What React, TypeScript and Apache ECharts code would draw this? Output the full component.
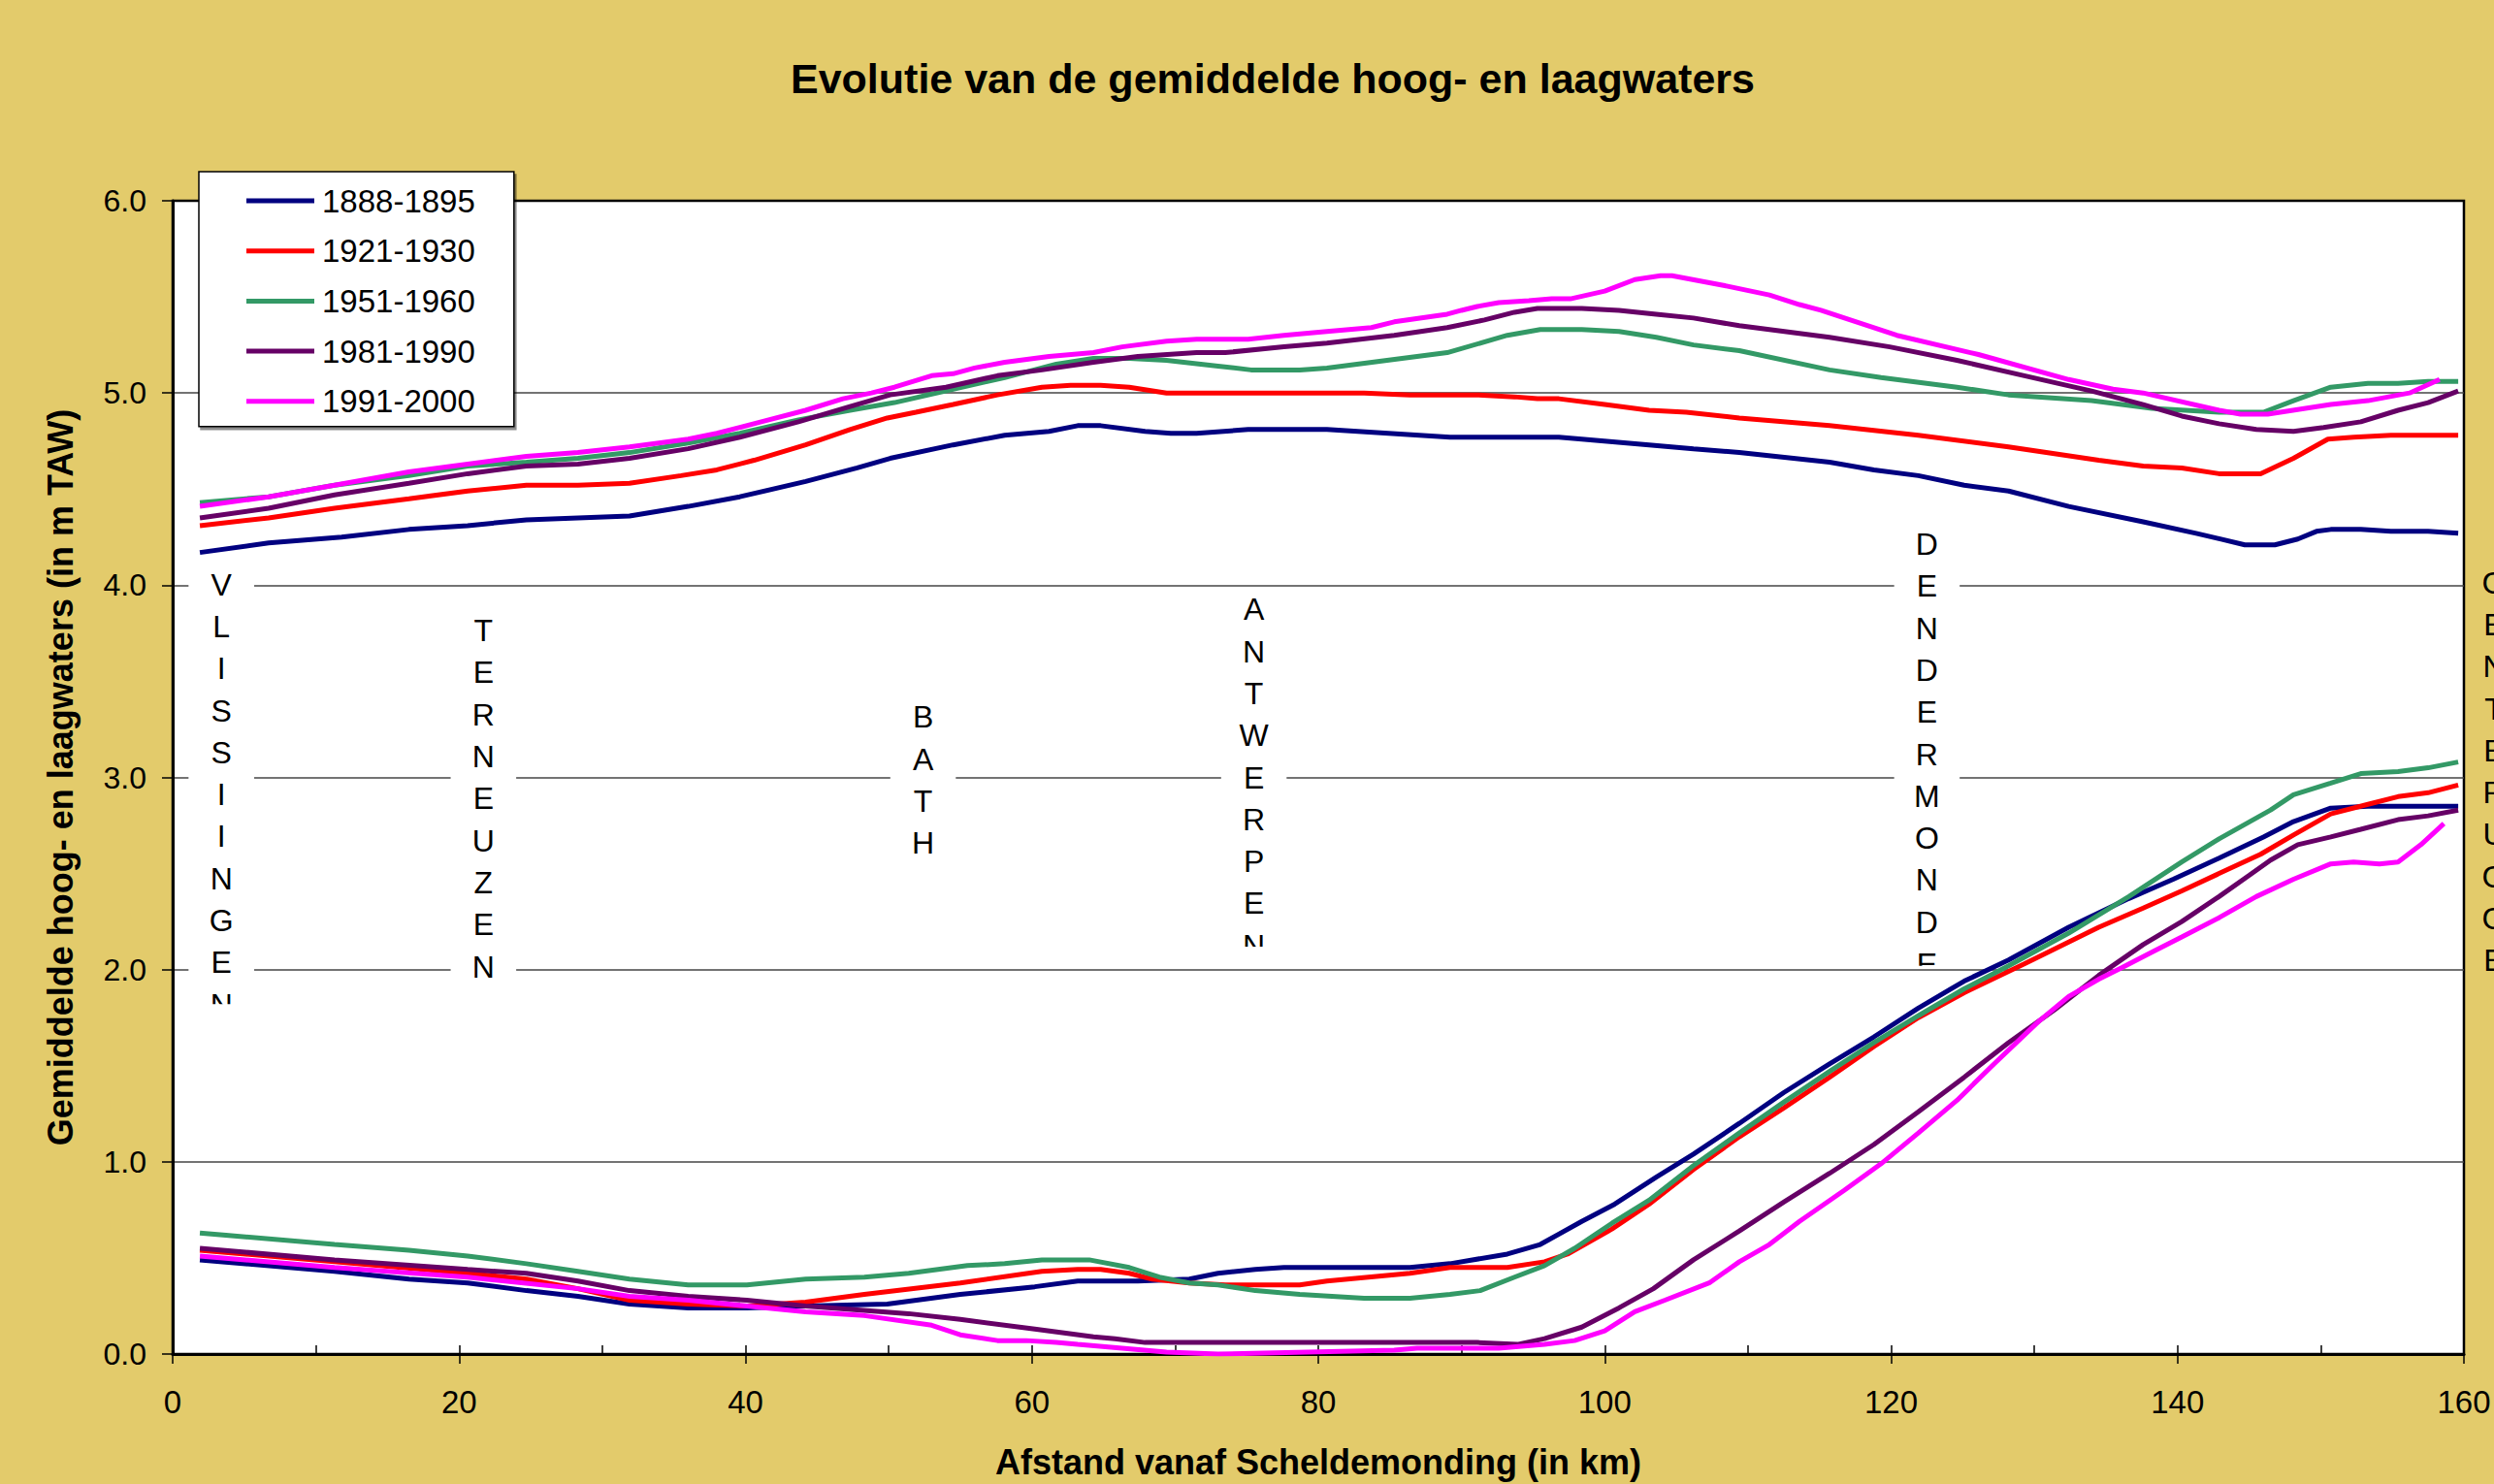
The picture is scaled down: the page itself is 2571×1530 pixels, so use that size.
import React, { useEffect, useRef } from "react";
import * as echarts from "echarts";

const FONT = "'Liberation Sans', Arial, sans-serif";

const TITLE = "Evolutie van de gemiddelde hoog- en laagwaters";
const X_NAME = "Afstand vanaf Scheldemonding (in km)";
const Y_NAME = "Gemiddelde hoog- en laagwaters (in m TAW)";

const periods = ["1888-1895", "1921-1930", "1951-1960", "1981-1990", "1991-2000"];
const colors = ["#000080", "#FF0000", "#339966", "#660066", "#FF00FF"];

// High water (hoogwater) [km, m TAW]
const hw1888 = [[1.9,4.17],[6.7,4.22],[11.8,4.25],[16.5,4.29],[20.6,4.31],[24.7,4.34],[31.9,4.36],[36.0,4.41],[39.6,4.46],[44.2,4.54],[47.8,4.61],[50.1,4.66],[54.5,4.73],[58.1,4.78],[61.2,4.80],[63.2,4.83],[64.8,4.83],[67.9,4.80],[69.7,4.79],[71.5,4.79],[75.1,4.81],[80.6,4.81],[89.2,4.77],[96.8,4.77],[98.4,4.76],[103.1,4.73],[106.2,4.71],[109.4,4.69],[115.7,4.64],[118.8,4.60],[121.9,4.57],[125.1,4.52],[128.2,4.49],[132.4,4.41],[137.6,4.33],[141.3,4.27],[144.7,4.21],[146.8,4.21],[148.4,4.24],[149.7,4.28],[150.7,4.29],[152.8,4.29],[154.9,4.28],[157.5,4.28],[159.6,4.27]];
const hw1921 = [[1.9,4.31],[6.7,4.35],[11.3,4.40],[16.5,4.45],[20.6,4.49],[24.7,4.52],[28.3,4.52],[31.9,4.53],[35.5,4.57],[38.0,4.60],[40.6,4.65],[44.2,4.73],[47.3,4.81],[49.9,4.87],[51.9,4.90],[54.5,4.94],[57.6,4.99],[60.7,5.03],[62.7,5.04],[64.8,5.04],[66.8,5.03],[69.4,5.00],[83.2,5.00],[86.4,4.99],[91.1,4.99],[93.7,4.98],[95.3,4.97],[96.8,4.97],[100.0,4.94],[103.1,4.91],[105.7,4.90],[109.4,4.87],[115.7,4.83],[121.9,4.78],[128.2,4.72],[134.5,4.65],[137.6,4.62],[140.3,4.61],[142.9,4.58],[145.8,4.58],[148.1,4.66],[150.5,4.76],[152.3,4.77],[154.9,4.78],[159.6,4.78]];
const hw1951 = [[1.9,4.43],[6.7,4.46],[11.3,4.52],[16.5,4.57],[20.6,4.62],[24.7,4.64],[28.3,4.66],[31.9,4.69],[36.0,4.74],[39.6,4.79],[43.7,4.86],[47.3,4.91],[50.4,4.95],[54.5,5.02],[58.1,5.08],[61.7,5.15],[64.3,5.18],[66.8,5.18],[69.4,5.17],[73.0,5.14],[75.3,5.12],[78.7,5.12],[80.6,5.13],[89.0,5.21],[93.2,5.30],[95.5,5.33],[98.4,5.33],[101.0,5.32],[103.6,5.29],[106.2,5.25],[109.4,5.22],[115.7,5.12],[119.3,5.08],[124.6,5.03],[128.2,4.99],[134.0,4.96],[138.2,4.92],[142.9,4.90],[146.0,4.90],[148.1,4.96],[150.7,5.03],[153.3,5.05],[155.4,5.05],[157.5,5.06],[159.6,5.06]];
const hw1981 = [[1.9,4.35],[6.7,4.40],[11.3,4.47],[16.5,4.53],[20.6,4.58],[24.7,4.62],[28.3,4.63],[31.9,4.66],[36.0,4.71],[39.6,4.77],[43.7,4.85],[47.3,4.93],[50.1,4.99],[54.0,5.03],[57.6,5.09],[60.7,5.12],[64.3,5.16],[67.4,5.19],[71.5,5.21],[73.5,5.21],[77.6,5.24],[80.6,5.26],[85.3,5.30],[89.0,5.34],[91.6,5.38],[93.7,5.42],[95.3,5.44],[98.4,5.44],[101.0,5.43],[103.6,5.41],[106.2,5.39],[109.4,5.35],[115.7,5.29],[119.9,5.24],[124.6,5.17],[129.3,5.09],[134.0,5.01],[137.6,4.94],[140.3,4.88],[142.9,4.84],[145.5,4.81],[148.1,4.80],[150.2,4.82],[152.8,4.85],[155.4,4.91],[157.5,4.95],[159.6,5.01]];
const hw1991 = [[1.9,4.41],[6.7,4.46],[11.3,4.52],[16.5,4.59],[20.6,4.63],[24.7,4.67],[28.3,4.69],[31.9,4.72],[36.0,4.76],[38.0,4.79],[41.1,4.85],[44.2,4.91],[46.8,4.97],[48.8,5.00],[50.4,5.03],[53.0,5.09],[54.5,5.10],[56.0,5.13],[58.1,5.16],[61.2,5.19],[64.3,5.21],[66.3,5.24],[69.4,5.27],[71.5,5.28],[75.1,5.28],[77.6,5.30],[80.6,5.32],[83.7,5.34],[85.3,5.37],[89.0,5.41],[90.0,5.43],[91.1,5.45],[92.6,5.47],[94.7,5.48],[96.3,5.49],[97.6,5.49],[100.0,5.53],[102.1,5.59],[103.9,5.61],[104.7,5.61],[108.3,5.56],[111.5,5.51],[113.6,5.46],[115.1,5.43],[120.4,5.30],[126.1,5.20],[132.4,5.07],[135.5,5.02],[137.6,5.00],[142.9,4.91],[144.4,4.89],[146.3,4.89],[150.7,4.94],[153.3,4.96],[156.2,5.00],[158.3,5.07]];

// Low water (laagwater) [km, m TAW]
const lw1888 = [[1.9,0.49],[11.3,0.43],[16.5,0.39],[20.6,0.37],[24.7,0.33],[28.3,0.30],[31.9,0.26],[36.0,0.24],[40.1,0.24],[44.2,0.25],[49.9,0.26],[55.0,0.31],[60.2,0.35],[63.2,0.38],[67.4,0.38],[71.0,0.39],[73.0,0.42],[75.6,0.44],[77.6,0.45],[86.4,0.45],[89.2,0.47],[93.2,0.52],[95.5,0.57],[98.4,0.69],[100.7,0.78],[103.6,0.92],[106.2,1.04],[109.4,1.20],[112.5,1.36],[115.7,1.51],[118.8,1.65],[121.9,1.80],[125.1,1.94],[128.2,2.05],[132.4,2.22],[136.6,2.37],[139.7,2.47],[142.9,2.58],[146.0,2.69],[148.1,2.77],[150.7,2.84],[153.3,2.85],[159.6,2.85]];
const lw1921 = [[1.9,0.54],[11.3,0.48],[20.6,0.42],[24.7,0.39],[28.3,0.34],[31.9,0.28],[36.0,0.26],[40.1,0.25],[44.2,0.27],[48.3,0.31],[55.0,0.37],[60.7,0.43],[63.2,0.44],[64.8,0.44],[66.8,0.42],[68.4,0.39],[71.0,0.37],[73.5,0.36],[78.7,0.36],[80.6,0.38],[86.4,0.42],[89.2,0.45],[93.2,0.45],[95.8,0.48],[97.4,0.52],[100.5,0.65],[103.1,0.78],[106.2,0.96],[109.4,1.13],[112.5,1.28],[115.7,1.44],[118.8,1.60],[121.9,1.75],[125.1,1.88],[129.3,2.03],[134.5,2.22],[137.6,2.32],[140.3,2.41],[142.9,2.50],[145.8,2.60],[148.1,2.70],[150.7,2.81],[153.3,2.86],[155.4,2.90],[157.5,2.92],[159.6,2.96]];
const lw1951 = [[1.9,0.63],[11.3,0.57],[16.5,0.54],[20.6,0.51],[24.7,0.47],[28.3,0.43],[31.9,0.39],[36.0,0.36],[40.1,0.36],[44.2,0.39],[48.3,0.40],[51.4,0.42],[55.5,0.46],[58.1,0.47],[60.7,0.49],[64.0,0.49],[66.8,0.45],[68.9,0.40],[71.0,0.37],[73.0,0.36],[75.6,0.33],[78.7,0.31],[83.2,0.29],[86.4,0.29],[89.2,0.31],[91.3,0.33],[93.7,0.40],[95.8,0.46],[97.9,0.55],[100.5,0.68],[103.1,0.80],[106.2,0.98],[109.4,1.15],[112.5,1.31],[115.7,1.47],[118.8,1.62],[121.9,1.76],[125.1,1.90],[128.2,2.02],[132.4,2.19],[136.6,2.38],[140.3,2.56],[142.9,2.68],[146.5,2.83],[148.1,2.91],[150.7,2.97],[152.8,3.02],[155.4,3.03],[157.5,3.05],[159.6,3.08]];
const lw1981 = [[1.9,0.55],[11.3,0.49],[20.6,0.44],[24.7,0.42],[28.3,0.38],[31.9,0.33],[36.0,0.30],[40.1,0.28],[44.2,0.25],[47.8,0.23],[51.4,0.21],[55.0,0.18],[60.2,0.13],[64.3,0.09],[65.8,0.08],[67.9,0.06],[91.1,0.06],[93.9,0.05],[95.8,0.08],[98.4,0.14],[101.0,0.24],[103.4,0.34],[106.2,0.49],[109.4,0.64],[112.5,0.79],[115.7,0.94],[118.8,1.09],[121.9,1.26],[125.1,1.44],[128.2,1.62],[131.4,1.79],[134.5,1.97],[137.6,2.13],[140.3,2.25],[142.9,2.38],[145.0,2.49],[146.5,2.57],[148.4,2.65],[150.7,2.69],[152.8,2.73],[155.4,2.78],[157.5,2.80],[159.6,2.83]];
const lw1991 = [[1.9,0.51],[11.3,0.45],[20.6,0.40],[28.3,0.34],[31.9,0.30],[36.0,0.28],[40.1,0.25],[44.2,0.22],[48.3,0.20],[53.0,0.15],[55.0,0.10],[57.6,0.07],[59.6,0.07],[61.7,0.06],[63.2,0.05],[66.3,0.03],[69.4,0.01],[73.0,0.00],[85.3,0.02],[86.9,0.03],[92.6,0.03],[95.8,0.05],[97.9,0.07],[100.0,0.12],[102.1,0.22],[104.2,0.28],[107.3,0.37],[109.4,0.48],[111.5,0.57],[113.6,0.69],[116.7,0.85],[119.3,0.99],[121.9,1.15],[124.6,1.32],[127.2,1.51],[130.3,1.73],[132.4,1.86],[134.5,1.95],[136.1,2.01],[138.2,2.09],[140.3,2.17],[142.9,2.27],[145.5,2.38],[148.1,2.47],[150.7,2.55],[152.3,2.56],[154.1,2.55],[155.4,2.56],[157.0,2.65],[158.6,2.76]];

const highWater = [hw1888, hw1921, hw1951, hw1981, hw1991];
const lowWater = [lw1888, lw1921, lw1951, lw1981, lw1991];

// Place names along the river, with km and the vertical extent (m TAW) of their label box
const placeNames = ["VLISSIINGEN", "TERNEUZEN", "BATH", "ANTWERPEN", "DENDERMONDE", "GENTBRUGGE"];
const placeKm = [3.4, 21.7, 52.4, 75.5, 122.5, 162.1];
const placeTop = [4.08, 3.84, 3.39, 3.95, 4.29, 4.09];
const placeBottom = [1.82, 1.93, 2.51, 2.12, 2.02, 1.94];
const placeFilled = [true, true, true, true, true, false];

const yTicks = [0, 1, 2, 3, 4, 5, 6];

export default function App() {
  const ref = useRef<HTMLDivElement>(null);

  useEffect(() => {
    document.body.style.margin = "0";
    if (!ref.current) return;
    const chart = echarts.init(ref.current, undefined, { renderer: "svg" });

    const lineSeries: any[] = [];
    periods.forEach((p, i) => {
      [highWater[i], lowWater[i]].forEach((d) => {
        lineSeries.push({
          type: "line",
          name: p,
          data: d,
          showSymbol: false,
          symbol: "none",
          xAxisIndex: 0,
          yAxisIndex: 0,
          color: colors[i],
          lineStyle: { color: colors[i], width: 5 },
          z: 3,
          silent: true,
        });
      });
    });

    const placeData = placeNames.map((n, i) => [placeKm[i], placeTop[i], placeBottom[i], i]);

    const option: any = {
      animation: false,
      backgroundColor: "#E3CB6B",
      title: {
        text: TITLE,
        left: 1307,
        top: 54,
        textAlign: "center",
        textStyle: { fontFamily: FONT, fontSize: 43, fontWeight: "bold", color: "#000" },
      },
      legend: {
        data: periods,
        orient: "vertical",
        left: 205,
        top: 177,
        itemWidth: 70,
        itemHeight: 5,
        itemGap: 18.7,
        icon: "rect",
        padding: [13.5, 40, 9.5, 49],
        backgroundColor: "#fff",
        borderColor: "#000",
        borderWidth: 1.5,
        shadowColor: "rgba(0,0,0,0.45)",
        shadowOffsetX: 2,
        shadowOffsetY: 3,
        shadowBlur: 0,
        selectedMode: false,
        textStyle: { fontFamily: FONT, fontSize: 33, lineHeight: 33, color: "#000", padding: [0, 0, 0, 3] },
        z: 10,
      },
      grid: {
        left: 178,
        top: 207,
        right: 31,
        bottom: 132,
        show: true,
        backgroundColor: "#fff",
        borderColor: "#000",
        borderWidth: 2.5,
      },
      xAxis: [
        {
          type: "value",
          min: 0,
          max: 160,
          interval: 20,
          name: X_NAME,
          nameLocation: "middle",
          nameGap: 93,
          nameTextStyle: { fontFamily: FONT, fontSize: 36, fontWeight: "bold", color: "#000" },
          axisLine: { show: true, onZero: false, lineStyle: { color: "#000", width: 3 } },
          axisTick: { show: true, inside: false, length: 10, lineStyle: { color: "#000", width: 1.5 } },
          axisLabel: { fontFamily: FONT, fontSize: 33, color: "#000", margin: 33 },
          splitLine: { show: false },
        },
        {
          type: "value",
          min: 0,
          max: 160,
          interval: 10,
          position: "bottom",
          axisLine: { show: false },
          axisTick: { show: true, inside: true, length: 9, lineStyle: { color: "#000", width: 1.5 } },
          axisLabel: { show: false },
          splitLine: { show: false },
        },
      ],
      yAxis: {
        type: "value",
        min: 0,
        max: 6,
        interval: 1,
        name: Y_NAME,
        nameLocation: "middle",
        nameGap: 98,
        nameTextStyle: { fontFamily: FONT, fontSize: 36, fontWeight: "bold", color: "#000" },
        axisLine: { show: true, onZero: false, lineStyle: { color: "#000", width: 3 } },
        axisTick: { show: true, inside: false, length: 11, lineStyle: { color: "#000", width: 1.5 } },
        axisLabel: {
          fontFamily: FONT,
          fontSize: 32,
          color: "#000",
          margin: 27,
          formatter: (v: number) => (yTicks.includes(v) ? v.toFixed(1) : ""),
        },
        splitLine: { show: true, showMinLine: false, showMaxLine: false, lineStyle: { color: "#444", width: 1.5 } },
      },
      series: [
        {
          type: "custom",
          coordinateSystem: "cartesian2d",
          xAxisIndex: 0,
          yAxisIndex: 0,
          clip: false,
          silent: true,
          z: 2,
          data: placeData,
          encode: { x: 0, y: 1 },
          renderItem: (params: any, api: any) => {
            const i = params.dataIndex;
            const p0 = api.coord([api.value(0), api.value(1)]);
            const p1 = api.coord([api.value(0), api.value(2)]);
            const cx = p0[0];
            const top = p0[1];
            const h = p1[1] - p0[1];
            const w = 68;
            const children: any[] = [];
            if (placeFilled[i]) {
              children.push({
                type: "rect",
                shape: { x: cx - w / 2, y: top, width: w, height: h },
                style: { fill: "#fff" },
              });
            }
            children.push({
              type: "text",
              x: cx,
              y: top - 6.5,
              style: {
                text: placeNames[i].split("").join("\n"),
                align: "center",
                verticalAlign: "top",
                fontSize: 32,
                lineHeight: 43.3,
                fontFamily: FONT,
                fill: "#000",
              },
            });
            return {
              type: "group",
              clipPath: { type: "rect", shape: { x: cx - w / 2, y: top, width: w, height: h } },
              children,
            };
          },
        },
        ...lineSeries,
      ],
    };

    chart.setOption(option);
    return () => chart.dispose();
  }, []);

  return <div ref={ref} style={{ width: 2571, height: 1530 }} />;
}
